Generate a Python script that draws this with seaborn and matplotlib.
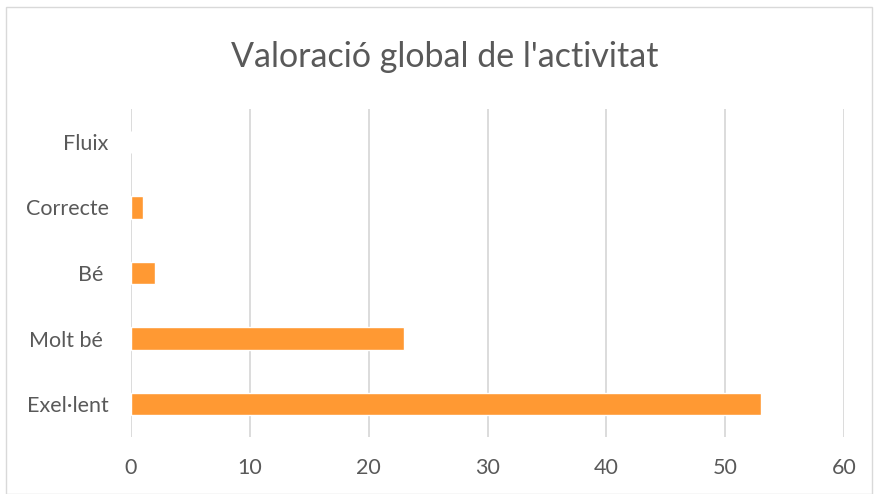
import pandas as pd
import seaborn as sns
import matplotlib.pyplot as plt
from matplotlib.patches import Rectangle

categories = ["Fluix", "Correcte", "Bé ", "Molt bé ", "Exel·lent"]
values = [0, 1, 2, 23, 53]
xticks = [0, 10, 20, 30, 40, 50, 60]

df = pd.DataFrame({"valoracio": categories, "respostes": values})

sns.set_theme(style="white")
plt.rcParams["font.family"] = ["Lato", "DejaVu Sans"]

fig = plt.figure(figsize=(8.75, 4.94), dpi=100)
ax = fig.add_axes([0.1497, 0.1154, 0.815, 0.664])

sns.barplot(data=df, x="respostes", y="valoracio", order=categories,
            color="#FF9933", saturation=1, width=0.34, ax=ax, zorder=3)

ax.set_xlim(0, 60)
ax.set_ylim(len(categories) - 0.5, -0.5)
ax.set_xticks(xticks)
ax.set_xlabel("")
ax.set_ylabel("")
ax.grid(axis="x", color="#D9D9D9", linewidth=1.3, zorder=0)
for s in ax.spines.values():
    s.set_visible(False)
ax.tick_params(axis="both", length=0, labelsize=15.5, labelcolor="#595959")
ax.tick_params(axis="y", pad=16)
ax.tick_params(axis="x", pad=15)

fig.text(0.508, 0.885, "Valoració global de l'activitat", ha="center", va="center",
         fontsize=24.5, color="#595959")

fig.patches.append(Rectangle((0.007, 0.0), 0.99, 0.985, transform=fig.transFigure,
                             fill=False, edgecolor="#D9D9D9", linewidth=1))

fig.savefig("out.png", dpi=100)
